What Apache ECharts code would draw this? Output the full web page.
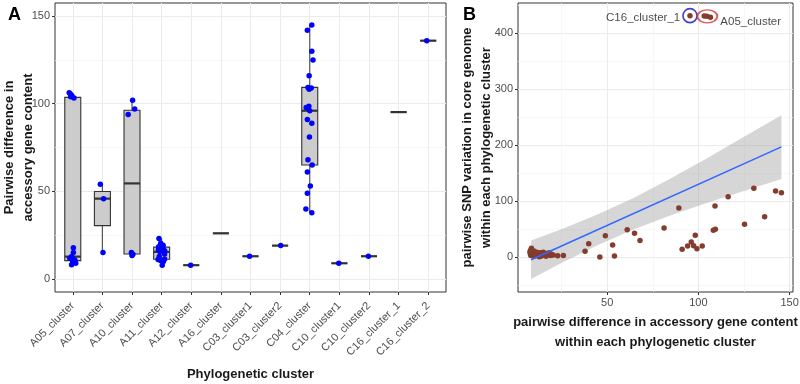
<!DOCTYPE html>
<html>
<head>
<meta charset="utf-8">
<script src="https://cdn.jsdelivr.net/npm/echarts@6/dist/echarts.min.js"></script>
<style>
  html, body { margin: 0; padding: 0; background: #fff; }
  #chart { width: 800px; height: 384px; }
</style>
</head>
<body>
<div id="chart"></div>
<script>
// panel A: clusters and box stats [min, q1, median, q3, max]
const clusters = ['A05_cluster', 'A07_cluster', 'A10_cluster', 'A11_cluster', 'A12_cluster',
  'A16_cluster', 'C03_cluster1', 'C03_cluster2', 'C04_cluster', 'C10_cluster1',
  'C10_cluster2', 'C16_cluster_1', 'C16_cluster_2'];
const boxStats = [
  [8, 10.4, 12.7, 103.6, 106.2],
  [15, 30.4, 45.8, 49.9, 54],
  [13.4, 14.2, 54.5, 96.3, 102],
  [7.8, 11.2, 15.4, 18.1, 23],
  [7.8, 7.8, 7.8, 7.8, 7.8],
  [26, 26, 26, 26, 26],
  [12.9, 12.9, 12.9, 12.9, 12.9],
  [19, 19, 19, 19, 19],
  [37.8, 65, 96, 109.3, 145],
  [8.9, 8.9, 8.9, 8.9, 8.9],
  [12.9, 12.9, 12.9, 12.9, 12.9],
  [95.2, 95.2, 95.2, 95.2, 95.2],
  [136, 136, 136, 136, 136]
];
// jittered points: [cluster index, jitter, value]
const pointsA = [
  [0, -0.12, 106.2], [0, -0.08, 105.5], [0, -0.03, 104.6], [0, -0.07, 104], [0, 0.04, 103.2],
  [0, 0.02, 17.8], [0, 0.02, 15], [0, -0.04, 12.7], [0, -0.1, 11.8], [0, -0.02, 11.4],
  [0, 0.07, 10.8], [0, 0, 10], [0, 0.01, 9.5], [0, 0.1, 8.9], [0, -0.04, 8],
  [1, -0.07, 54], [1, 0.04, 45.8], [1, 0.02, 15],
  [2, 0.02, 102], [2, 0.09, 97], [2, -0.13, 93.9], [2, -0.02, 15], [2, 0.03, 14], [2, 0, 13.4],
  [3, -0.09, 23], [3, -0.03, 20.4], [3, 0.05, 19.2], [3, -0.1, 18.3], [3, 0.04, 17.8],
  [3, -0.11, 16.6], [3, 0.1, 16], [3, -0.05, 15.4], [3, 0.1, 14.2], [3, -0.08, 12.8],
  [3, 0.1, 11.4], [3, -0.12, 11], [3, -0.04, 10.5], [3, 0.06, 9.9], [3, 0.02, 7.8],
  [4, -0.02, 7.8],
  [6, -0.03, 12.9], [7, 0.02, 19],
  [8, 0.07, 145], [8, -0.08, 142], [8, 0.07, 130], [8, 0.11, 124.9], [8, -0.02, 115.9],
  [8, -0.06, 109.3], [8, 0.05, 109], [8, -0.02, 108.3], [8, -0.03, 98.6], [8, -0.12, 97.9],
  [8, 0, 96], [8, -0.08, 91], [8, 0.07, 88.8], [8, -0.01, 81], [8, -0.06, 68],
  [8, 0.08, 65], [8, -0.08, 61], [8, 0.02, 53], [8, -0.08, 48.9], [8, -0.13, 39.9], [8, 0.07, 37.8],
  [9, -0.02, 8.9], [10, -0.02, 12.9], [12, -0.05, 136]
];
const ticksA = [0, 50, 100, 150];
const minorA = [25, 75, 125];

// panel B: [accessory difference, SNP variation]
const pointsB = [
  [7.8, 8], [7.8, 10], [8, 5], [8, 12], [8.2, 3], [8.5, 16], [8.9, 3], [9.5, 8], [9.9, 11],
  [10, 2], [10.3, 6], [10.8, 4], [11.4, 9], [11.8, 3], [12.4, 7], [12.7, 1], [12.9, 5],
  [13.4, 8], [13.6, 2], [14, 6], [14.6, 3], [15, 9], [15.4, 4], [16, 7], [16.5, 2],
  [17.8, 5], [18.2, 8], [19, 3], [19.2, 6], [20.4, 4],
  [22.9, 2.9], [26, 3], [37.9, 10.7], [39.9, 24.3], [46, 0.5], [49, 38.6], [53, 22],
  [54, 2.3], [61, 49], [65, 43], [68, 30], [81.2, 52.3], [89.3, 88], [91.1, 14.3],
  [94.1, 20.2], [96.1, 27.3], [97.4, 20.7], [98.3, 39.3], [99.2, 15.2], [102.1, 20.2],
  [108.2, 48.2], [109.3, 50], [109.1, 91.6], [116.3, 108.2], [125.3, 58.9], [130.4, 123.2],
  [136.3, 72.5], [142.3, 118.4], [145.5, 115.4],
  [95.4, 431.4], [103.2, 431], [104.7, 430.4], [106.6, 428.6]
];
const fitLine = [[8.3, -4.5], [145.5, 197]];
const bandX = [8.3, 25, 45, 65, 85, 105, 125, 145.5];
const bandLo = [-39, -10, 21.8, 50.7, 75, 97.3, 118.2, 139.8];
const bandHi = [30, 50, 76.8, 106.7, 141, 177.3, 215.2, 253.8];
const ticksBx = [50, 100, 150];
const minorBx = [25, 75, 125];
const ticksBy = [0, 100, 200, 300, 400];
const minorBy = [-50, 50, 150, 250, 350, 450];
const highlights = [
  { name: 'C16_cluster_1', value: [95.4, 431.4], color: '#1010C0', size: [14, 14], side: 'left', offset: [0, 2] },
  { name: 'A05_cluster', value: [104.9, 430.2], color: '#D83030', size: [20, 13], side: 'right', offset: [0, 5] }
];

const font = 'Liberation Sans, Arial, sans-serif';
const tickLabel = { color: '#4D4D4D', fontSize: 11, fontFamily: font };
const titleStyle = { color: '#1A1A1A', fontSize: 13, fontWeight: 'bold', fontFamily: font, lineHeight: 19 };
const titleStyleB = Object.assign({}, titleStyle, { lineHeight: 20 });
const major = { show: true, lineStyle: { color: '#EBEBEB', width: 1 } };
const minor = { show: true, lineStyle: { color: '#F3F3F3', width: 0.7 } };
const noLine = { show: false, onZero: false };
const tick = (vals) => ({ show: true, length: 3, customValues: vals, lineStyle: { color: '#333' } });

function minorAxis(gridIndex, min, max, vals) {
  return {
    type: 'value', gridIndex, min, max,
    axisLine: noLine, axisLabel: { show: false },
    axisTick: { show: false, customValues: vals }, splitLine: minor
  };
}

const chart = echarts.init(document.getElementById('chart'));
chart.setOption({
  animation: false,
  backgroundColor: '#fff',
  title: [
    { text: 'A', left: 3, top: 1, textStyle: { fontSize: 18, fontWeight: 'bold', fontFamily: font, color: '#000' } },
    { text: 'B', left: 458, top: 1, textStyle: { fontSize: 18, fontWeight: 'bold', fontFamily: font, color: '#000' } }
  ],
  grid: [
    { left: 55, top: 3, width: 391, height: 289, show: true, borderColor: '#333', borderWidth: 1,
      backgroundColor: 'transparent', outerBoundsMode: 'none' },
    { left: 518, top: 3, width: 275, height: 289, show: true, borderColor: '#333', borderWidth: 1,
      backgroundColor: 'transparent', outerBoundsMode: 'none' }
  ],
  xAxis: [
    {
      type: 'value', gridIndex: 0, min: -0.6, max: 12.6,
      axisLine: noLine,
      axisTick: tick(clusters.map((c, i) => i)),
      axisLabel: Object.assign({}, tickLabel, { customValues: clusters.map((c, i) => i), rotate: 45, margin: 12, formatter: (v) => clusters[Math.round(v)] }),
      splitLine: major,
      name: 'Phylogenetic cluster', nameLocation: 'middle', nameGap: 73, nameMoveOverlap: false, nameTextStyle: titleStyle
    },
    {
      type: 'value', gridIndex: 1, min: 1.15, max: 151.85,
      axisLine: noLine,
      axisTick: tick(ticksBx),
      axisLabel: Object.assign({}, tickLabel, { customValues: ticksBx, margin: 5 }),
      splitLine: major,
      name: 'pairwise difference in accessory gene content\nwithin each phylogenetic cluster',
      nameLocation: 'middle', nameGap: 20, nameMoveOverlap: false, nameTextStyle: titleStyleB
    },
    minorAxis(1, 1.15, 151.85, minorBx)
  ],
  yAxis: [
    {
      type: 'value', gridIndex: 0, min: -7.5, max: 157.5,
      axisLine: noLine,
      axisTick: tick(ticksA),
      axisLabel: Object.assign({}, tickLabel, { customValues: ticksA, margin: 5 }),
      splitLine: major,
      name: 'Pairwise difference in\naccessory gene content',
      nameLocation: 'middle', nameGap: 17, nameMoveOverlap: false, nameTextStyle: titleStyle
    },
    minorAxis(0, -7.5, 157.5, minorA),
    {
      type: 'value', gridIndex: 1, min: -62, max: 454,
      axisLine: noLine,
      axisTick: tick(ticksBy),
      axisLabel: Object.assign({}, tickLabel, { customValues: ticksBy, margin: 5 }),
      splitLine: major,
      name: 'pairwise SNP variation in core genome\nwithin each phylogenetic cluster',
      nameLocation: 'middle', nameGap: 22, nameMoveOverlap: false, nameTextStyle: titleStyle
    },
    minorAxis(1, -62, 454, minorBy)
  ],
  series: [
    {
      type: 'custom', xAxisIndex: 0, yAxisIndex: 0, z: 3,
      data: boxStats.map((s, i) => [i].concat(s)),
      encode: { x: 0, y: [1, 2, 3, 4, 5] },
      renderItem: (params, api) => {
        const x = api.value(0);
        const half = api.size([1, 0])[0] * 0.27;
        const pMin = api.coord([x, api.value(1)]);
        const pQ1 = api.coord([x, api.value(2)]);
        const pMed = api.coord([x, api.value(3)]);
        const pQ3 = api.coord([x, api.value(4)]);
        const pMax = api.coord([x, api.value(5)]);
        const line = { stroke: '#555', lineWidth: 1.2 };
        return {
          type: 'group',
          children: [
            { type: 'line', shape: { x1: pMin[0], y1: pMin[1], x2: pQ1[0], y2: pQ1[1] }, style: line },
            { type: 'line', shape: { x1: pQ3[0], y1: pQ3[1], x2: pMax[0], y2: pMax[1] }, style: line },
            { type: 'rect', shape: { x: pQ3[0] - half, y: pQ3[1], width: half * 2, height: pQ1[1] - pQ3[1] },
              style: { fill: '#CCCCCC', stroke: '#333', lineWidth: 1.1 } },
            { type: 'line', shape: { x1: pMed[0] - half, y1: pMed[1], x2: pMed[0] + half, y2: pMed[1] },
              style: { stroke: '#333', lineWidth: 2.2 } }
          ]
        };
      }
    },
    {
      type: 'scatter', xAxisIndex: 0, yAxisIndex: 0, z: 4,
      symbolSize: 5.5, itemStyle: { color: '#0000FF', opacity: 1 },
      data: pointsA.map((p) => [p[0] + p[1], p[2]])
    },
    {
      type: 'custom', xAxisIndex: 1, yAxisIndex: 2, z: 2,
      data: bandX.map((x, i) => [x, bandLo[i], bandHi[i]]),
      encode: { x: 0, y: [1, 2] },
      renderItem: (params, api) => {
        if (params.dataIndex !== 0) return null;
        const pts = [];
        bandX.forEach((x, i) => pts.push(api.coord([x, bandHi[i]])));
        for (let i = bandX.length - 1; i >= 0; i--) pts.push(api.coord([bandX[i], bandLo[i]]));
        return { type: 'polygon', shape: { points: pts }, style: { fill: 'rgba(153,153,153,0.4)' } };
      }
    },
    {
      type: 'scatter', xAxisIndex: 1, yAxisIndex: 2, z: 3,
      symbolSize: 5.5, itemStyle: { color: '#833C2D', opacity: 1 },
      data: pointsB
    },
    {
      type: 'line', xAxisIndex: 1, yAxisIndex: 2, z: 4,
      showSymbol: false, lineStyle: { color: '#3366FF', width: 1.5 },
      data: fitLine
    },
    {
      type: 'scatter', xAxisIndex: 1, yAxisIndex: 2, z: 5,
      data: highlights.map((h) => ({
        name: h.name, value: h.value, symbolSize: h.size,
        itemStyle: { color: 'rgba(0,0,0,0)', borderColor: h.color, borderWidth: 1.6 },
        label: { show: true, formatter: h.name, position: h.side, distance: 2, offset: h.offset,
          color: '#1A1A1A', fontSize: 11.5, fontFamily: font }
      }))
    }
  ]
});
</script>
</body>
</html>
